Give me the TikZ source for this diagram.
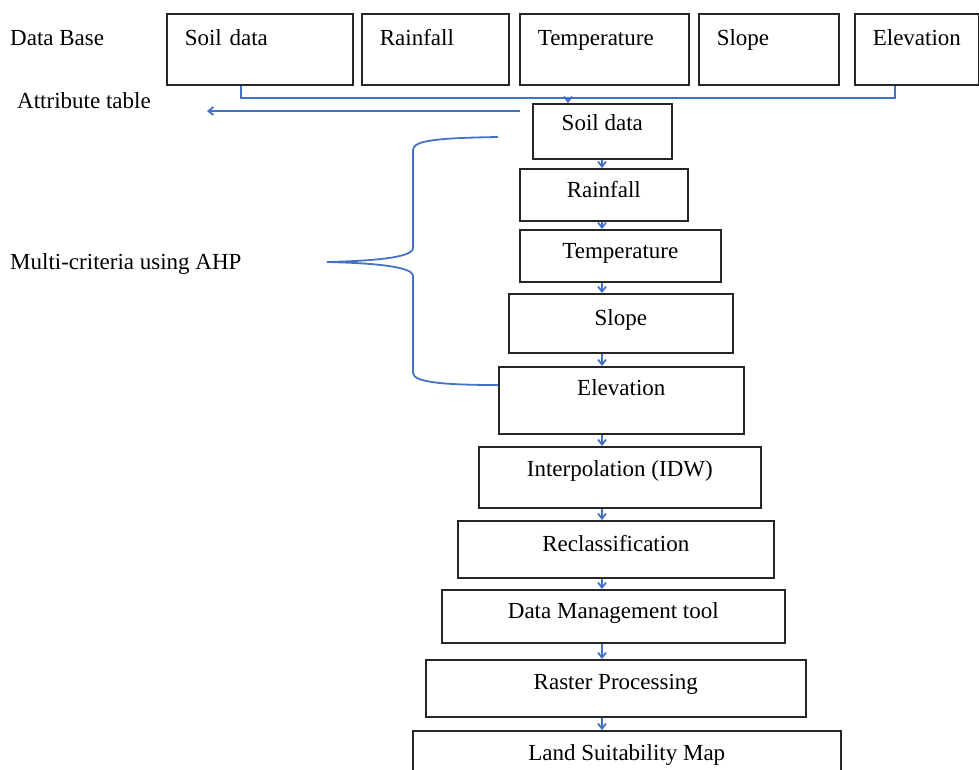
\documentclass[tikz,border=0pt]{standalone}
\usepackage{fontspec}
\setmainfont{Liberation Serif}
\usetikzlibrary{arrows.meta}
\definecolor{lnblue}{HTML}{4472C4}
\begin{document}
\begin{tikzpicture}[x=1pt,y=-1pt,
  every node/.style={font=\fontsize{23}{27}\selectfont, inner sep=0pt},
  box/.style={draw=black!85, line width=1.6pt, anchor=north west, align=center},
  topbox/.style={box, align=left},
  bl/.style={draw=lnblue, line width=1.8pt},
  arr/.style={bl, -{Straight Barb[length=5pt,width=8pt]}},
  plain/.style={anchor=base west}]
\useasboundingbox (0,0) rectangle (979,769);
% top boxes: name, x, y, width, height, text
\newcommand{\tbox}[6]{%
  \pgfmathsetmacro{\tw}{#4-36}\pgfmathsetmacro{\td}{#5-32}%
  \node[topbox, text width=\tw pt, inner xsep=18pt, minimum height=#5pt, text height=32pt, text depth=\td pt] (#1) at (#2,#3) {#6};}
\tbox{t1}{166}{13}{186}{71}{Soil data}
\tbox{t2}{361}{13}{147}{71}{Rainfall}
\tbox{t3}{519}{13}{169}{71}{Temperature}
\tbox{t4}{698}{13}{140}{71}{Slope}
\tbox{t5}{854}{13}{124}{71}{Elevation}
% middle boxes: name, x, y, width, height, baseline offset, text
\newcommand{\midbox}[7]{%
  \pgfmathsetmacro{\td}{#5-#6}%
  \node[box, minimum width=#4pt, minimum height=#5pt, text height=#6pt, text depth=\td pt] (#1) at (#2,#3) {#7};}
\midbox{m1}{532}{103}{139}{55}{27}{Soil data}
\midbox{m2}{519}{168}{168}{52}{29}{Rainfall}
\midbox{m3}{519}{229}{201}{52}{29}{Temperature}
\midbox{m4}{508}{293}{224}{59}{32}{Slope}
\midbox{m5}{498}{366}{245}{67}{29}{Elevation}
\midbox{m6}{478}{446}{282}{61}{30}{Interpolation (IDW)}
\midbox{m7}{457}{520}{316}{57}{31}{Reclassification}
\midbox{m8}{441}{589}{343}{53}{29}{Data Management tool}
\midbox{m9}{425}{659}{380}{57}{30}{Raster Processing}
\midbox{m10}{412}{730}{428}{60}{30}{Land Suitability Map}
% labels
\node[plain] (db) at (10,45) {Data Base};
\node[plain] (at) at (17,108) {Attribute table};
\node[plain] (mc) at (10,269) {Multi-criteria using AHP};
% bus
\coordinate (b1) at (241,98);
\coordinate (b5) at (895,98);
\coordinate (bx) at (568,98);
\draw[bl] (t1.south -| b1) -- (b1) -- (b5) -- (t5.south -| b5);
\draw[arr] (bx) -- (m1.north -| bx);
% attribute table arrow
\coordinate (a1) at (520,111);
\coordinate (a2) at (207,111);
\draw[arr] (a1) -- (a2);
% vertical chain
\coordinate (ax) at (602,0);
\foreach \a/\b in {m1/m2,m2/m3,m3/m4,m4/m5,m5/m6,m6/m7,m7/m8,m8/m9,m9/m10}
  \draw[arr] (\a.south -| ax) -- (\b.north -| ax);
% brace
\coordinate (br1) at (498,137);
\coordinate (brt) at (327,262);
\coordinate (br2) at (0,385);
\draw[bl] (br1) .. controls (440,138) and (413,140) .. (413,150) -- (413,248)
  .. controls (413,258) and (370,261) .. (brt)
  .. controls (370,263) and (413,266) .. (413,276) -- (413,373)
  .. controls (413,383) and (450,385) .. (m5.west |- br2);
\end{tikzpicture}
\end{document}
